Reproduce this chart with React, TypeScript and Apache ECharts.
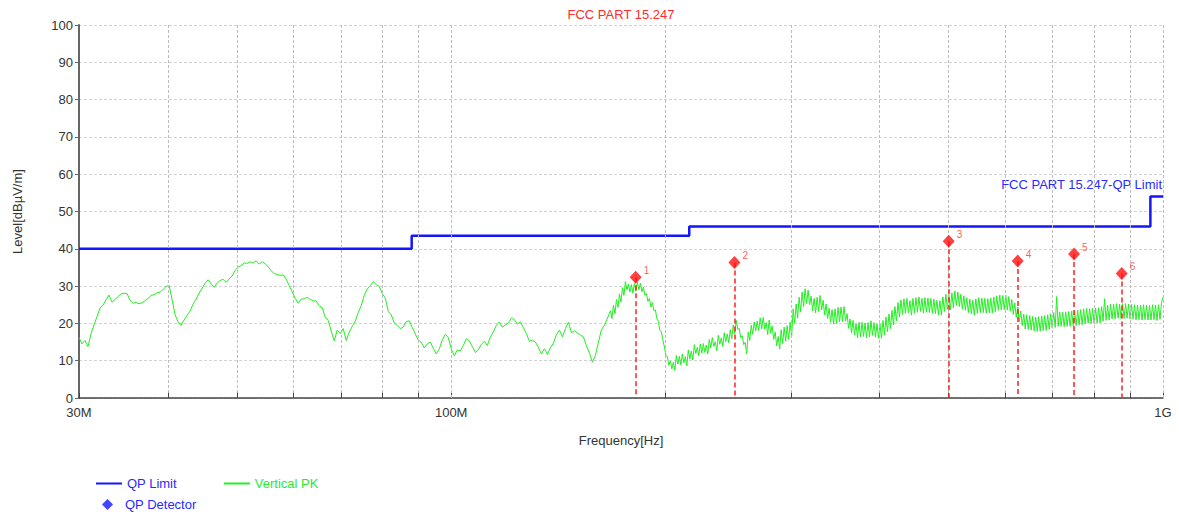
import React, { useEffect, useRef } from "react";
import * as echarts from "echarts";

const FONT = "'Liberation Sans', Arial, sans-serif";

const TITLE = "FCC PART 15.247";
const LIMIT_LABEL = "FCC PART 15.247-QP Limit";
const X_NAME = "Frequency[Hz]";
const Y_NAME = "Level[dBµV/m]";

// receiver sweep (MHz): coarse log-spaced part, then a finer log-spaced part
const SWEEP_START_MHZ = 30;
const SWEEP_SPLIT_MHZ = 167.4;
const SWEEP_STOP_MHZ = 1000;

// Vertical PK levels (dBµV/m), 30 MHz -> 167.4 MHz
const TRACE_LEVELS_LOW = [
  16.2, 14.5, 15.4, 13.8, 17.2, 19.6, 21.8, 24.1, 24.9, 26.3,
  27.6, 25.7, 26.4, 27.2, 27.9, 28.1, 28.0, 26.2, 25.4, 25.6,
  25.3, 25.5, 26.1, 26.7, 27.5, 27.7, 28.2, 28.4, 29.1, 29.9,
  30.2, 26.4, 22.3, 20.4, 19.5, 20.9, 22.2, 23.3, 25.2, 26.5,
  28.1, 29.4, 30.8, 31.7, 30.6, 29.7, 30.8, 31.5, 31.8, 31.0,
  31.9, 32.7, 34.2, 35.1, 35.5, 36.2, 36.1, 36.5, 36.2, 36.8,
  35.9, 36.5, 36.0, 35.2, 34.1, 33.4, 33.1, 32.9, 33.0, 31.9,
  30.1, 28.5, 26.7, 25.4, 26.5, 26.6, 27.0, 26.4, 26.1, 26.0,
  24.8, 24.2, 21.6, 20.8, 17.9, 15.3, 18.2, 17.3, 18.6, 15.4,
  17.7, 19.2, 20.6, 22.9, 24.8, 27.5, 29.2, 30.1, 31.2, 30.4,
  29.9, 28.0, 26.8, 23.2, 22.3, 20.1, 19.4, 18.6, 19.0, 20.5,
  20.7, 18.9, 17.2, 15.5, 14.9, 13.4, 14.5, 15.0, 13.3, 11.8,
  13.2, 15.6, 17.1, 16.2, 13.1, 11.3, 12.9, 12.6, 14.1, 15.9,
  15.3, 13.8, 12.2, 12.9, 14.4, 15.2, 14.1, 16.3, 17.7, 19.5,
  20.4, 19.0, 19.6, 20.1, 21.4, 21.0, 19.8, 20.4, 18.9, 17.3,
  15.2, 15.5, 15.0, 13.6, 11.8, 13.2, 11.7, 13.5, 14.7, 17.0,
  18.2, 16.4, 18.6, 20.3, 17.5, 18.0, 17.4, 16.9, 16.4, 14.0,
  12.1, 9.6, 11.4, 15.0, 18.3, 19.5, 21.4,
];

// Vertical PK levels (dBµV/m), 167.4 MHz -> 1 GHz (dense noisy band)
const TRACE_LEVELS_HIGH = [
  23.4, 21.3, 24.9, 22.6, 26.4, 24.3, 27.9, 25.7, 29.6, 27.5,
  31.2, 29.0, 30.5, 28.4, 30.4, 28.1, 30.7, 28.6, 31.1, 29.0,
  30.8, 28.5, 29.7, 27.6, 28.0, 25.9, 26.7, 24.4, 25.6, 23.5,
  23.6, 21.3, 20.5, 18.1, 17.8, 15.6, 13.7, 11.4, 11.1, 8.8,
  9.9, 7.8, 9.6, 7.4, 11.4, 9.1, 11.2, 8.9, 11.8, 9.4,
  11.1, 8.6, 12.9, 10.4, 12.6, 10.2, 14.3, 11.9, 13.6, 11.3,
  14.5, 12.0, 14.6, 12.2, 14.2, 11.8, 15.7, 13.4, 16.2, 13.8,
  15.1, 12.7, 16.8, 14.4, 16.1, 13.8, 17.5, 15.1, 17.2, 14.8,
  18.3, 15.9, 19.6, 17.3, 20.8, 18.4, 18.6, 16.2, 16.7, 14.3,
  14.9, 11.8, 17.7, 15.4, 19.5, 17.1, 20.4, 18.0, 20.6, 18.1,
  21.5, 18.6, 21.6, 18.5, 20.2, 17.0, 20.9, 17.4, 19.3, 15.7,
  17.7, 14.0, 16.5, 13.1, 18.3, 14.6, 19.0, 15.2, 19.4, 15.7,
  20.3, 16.5, 23.9, 20.1, 25.2, 21.4, 27.0, 23.1, 28.4, 24.5,
  29.3, 25.3, 28.9, 25.0, 27.3, 23.4, 26.7, 22.8, 27.0, 23.2,
  27.5, 23.6, 26.2, 22.3, 25.2, 21.3, 24.1, 20.3, 23.7, 19.8,
  23.9, 20.0, 24.3, 20.4, 24.4, 20.5, 24.5, 20.6, 22.6, 18.7,
  21.2, 17.4, 20.8, 16.9, 19.9, 16.1, 20.3, 16.4, 20.3, 16.5,
  20.1, 16.2, 20.2, 16.4, 20.7, 16.8, 20.2, 16.3, 19.9, 16.0,
  19.8, 16.0, 20.8, 16.9, 21.7, 17.8, 22.5, 18.6, 23.5, 19.6,
  24.5, 20.6, 25.6, 21.7, 26.3, 22.4, 26.6, 22.7, 26.7, 22.8,
  26.1, 22.2, 26.7, 22.7, 26.9, 23.0, 27.1, 23.2, 26.7, 22.8,
  26.9, 23.0, 26.8, 22.9, 26.7, 22.7, 26.5, 22.6, 26.2, 22.3,
  26.1, 22.2, 27.1, 23.2, 27.8, 23.8, 27.7, 23.7, 28.2, 24.2,
  28.7, 24.8, 28.4, 24.5, 27.8, 23.8, 27.4, 23.5, 26.9, 22.9,
  26.5, 22.6, 26.2, 22.2, 26.6, 22.7, 26.9, 22.9, 26.8, 22.9,
  26.7, 22.7, 26.6, 22.8, 26.8, 22.8, 27.1, 23.1, 27.4, 23.5,
  27.6, 23.6, 27.5, 23.7, 27.6, 23.6, 27.2, 23.3, 26.4, 22.4,
  25.5, 21.6, 24.4, 20.4, 23.3, 19.4, 22.5, 18.5, 22.3, 18.4,
  22.1, 18.2, 21.9, 18.0, 21.7, 17.8, 21.8, 17.9, 22.0, 18.1,
  22.1, 18.1, 22.3, 18.4, 22.6, 18.7, 22.9, 18.9, 27.2, 19.2,
  23.1, 19.2, 23.0, 19.1, 23.1, 19.2, 23.2, 19.2, 23.3, 19.4,
  23.4, 19.4, 23.5, 19.6, 23.7, 19.7, 23.9, 19.9, 24.0, 20.1,
  23.9, 20.0, 24.0, 20.0, 24.1, 20.1, 24.2, 20.2, 24.5, 20.6,
  26.6, 20.8, 24.9, 20.9, 25.1, 21.2, 25.2, 21.2, 25.3, 21.4,
  25.2, 21.3, 25.3, 21.3, 25.3, 21.4, 25.2, 21.2, 25.1, 21.2,
  25.0, 21.0, 24.9, 21.0, 24.9, 20.9, 25.0, 21.0, 24.9, 20.9,
  24.8, 20.9, 25.0, 21.0, 24.9, 20.8, 25.0, 21.1, 25.6, 27.0,
];

// QP limit (step line)
const LIMIT_FREQS = [30, 88, 88, 216, 216, 960, 960, 1000];
const LIMIT_LEVELS = [40, 40, 43.5, 43.5, 46, 46, 54, 54];

// QP detector markers
const MARKER_IDS = ["1", "2", "3", "4", "5", "6"];
const MARKER_FREQS = [181.6, 250, 500, 625, 750, 875];
const MARKER_LEVELS = [32.4, 36.3, 42.0, 36.7, 38.6, 33.4];

// vertical grid lines and minor ticks (MHz)
const GRID_FREQS = [40, 50, 60, 70, 80, 90, 100, 200, 300, 400, 500, 600, 700, 800, 900, 1000];
const MINOR_TICK_FREQS = [40, 50, 60, 70, 80, 90, 200, 300, 400, 500, 600, 700, 800, 900];

const Y_MIN = 0;
const Y_MAX = 100;
const Y_STEP = 10;

export default function App() {
  const ref = useRef<HTMLDivElement>(null);

  useEffect(() => {
    document.body.style.margin = "0";
    if (!ref.current) return;
    const chart = echarts.init(ref.current, undefined, { renderer: "svg" });

    const nLow = TRACE_LEVELS_LOW.length;
    const nHigh = TRACE_LEVELS_HIGH.length;
    const traceData = [
      ...TRACE_LEVELS_LOW.map((lv, i) => [
        SWEEP_START_MHZ * Math.pow(SWEEP_SPLIT_MHZ / SWEEP_START_MHZ, i / nLow),
        lv,
      ]),
      ...TRACE_LEVELS_HIGH.map((lv, j) => [
        SWEEP_SPLIT_MHZ * Math.pow(SWEEP_STOP_MHZ / SWEEP_SPLIT_MHZ, j / (nHigh - 1)),
        lv,
      ]),
    ];
    const limitData = LIMIT_FREQS.map((f, i) => [f, LIMIT_LEVELS[i]]);
    const markerData = MARKER_FREQS.map((f, i) => ({
      name: MARKER_IDS[i],
      value: [f, MARKER_LEVELS[i]],
    }));

    const option: any = {
      animation: false,
      backgroundColor: "#ffffff",
      textStyle: { fontFamily: FONT },
      grid: { left: 79, right: 16, top: 25, bottom: 117, containLabel: false },
      xAxis: {
        type: "log",
        logBase: 10,
        min: 30,
        max: 1000,
        axisLine: { show: true, onZero: false, lineStyle: { color: "#444", width: 1.5 } },
        axisTick: { show: true, inside: true, length: 5, lineStyle: { color: "#444" } },
        axisLabel: {
          color: "#333",
          fontSize: 13,
          fontFamily: FONT,
          margin: 8,
          showMinLabel: true,
          showMaxLabel: true,
          formatter: (v: number) =>
            v >= 1000 ? Math.round(v / 1000) + "G" : Math.round(v) + "M",
        },
        splitLine: { show: false },
        minorTick: { show: false },
        name: X_NAME,
        nameLocation: "middle",
        nameGap: 36,
        nameTextStyle: { color: "#333", fontSize: 13, fontFamily: FONT },
      },
      yAxis: {
        type: "value",
        min: Y_MIN,
        max: Y_MAX,
        interval: Y_STEP,
        axisLine: { show: true, lineStyle: { color: "#666", width: 2 } },
        axisTick: { show: true, length: 4, lineStyle: { color: "#666" } },
        axisLabel: { color: "#333", fontSize: 13, fontFamily: FONT, margin: 6 },
        splitLine: { show: true, lineStyle: { color: "#d2d2d2", type: [3, 2], width: 1 } },
        name: Y_NAME,
        nameLocation: "middle",
        nameGap: 55,
        nameRotate: 90,
        nameTextStyle: { color: "#333", fontSize: 13, fontFamily: FONT },
      },
      legend: [
        {
          data: [
            { name: "QP Limit", icon: "rect", textStyle: { color: "#2a2aff" } },
            { name: "Vertical PK", icon: "rect", textStyle: { color: "#2ee82e" } },
          ],
          left: 96,
          top: 477,
          padding: 0,
          itemWidth: 26,
          itemHeight: 2,
          itemGap: 47,
          selectedMode: false,
          textStyle: { fontSize: 13, fontFamily: FONT },
        },
        {
          data: [
            {
              name: "QP Detector",
              icon: "diamond",
              itemStyle: { color: "#1515ff" },
              textStyle: { color: "#2a2aff", padding: [0, 0, 0, 7] },
            },
          ],
          left: 102,
          top: 498,
          padding: 0,
          itemWidth: 11,
          itemHeight: 11,
          selectedMode: false,
          textStyle: { fontSize: 13, fontFamily: FONT },
        },
      ],
      graphic: [
        {
          type: "text",
          x: 621,
          y: 14,
          silent: true,
          style: {
            text: TITLE,
            fill: "#ff2a2a",
            fontSize: 13,
            fontFamily: FONT,
            align: "center",
            verticalAlign: "middle",
          },
        },
        {
          type: "text",
          x: 1162,
          y: 184,
          silent: true,
          style: {
            text: LIMIT_LABEL,
            fill: "#2a2aff",
            fontSize: 13,
            fontFamily: FONT,
            align: "right",
            verticalAlign: "middle",
          },
        },
      ],
      series: [
        {
          name: "gridlines",
          type: "line",
          data: [],
          silent: true,
          z: 1,
          markLine: {
            silent: true,
            symbol: "none",
            label: { show: false },
            animation: false,
            lineStyle: { color: "#bdbdbd", type: [3, 2], width: 1 },
            data: GRID_FREQS.map((f) => ({ xAxis: f })),
          },
        },
        {
          name: "minorticks",
          type: "line",
          data: [],
          silent: true,
          z: 2,
          markLine: {
            silent: true,
            symbol: "none",
            label: { show: false },
            animation: false,
            lineStyle: { color: "#444", type: "solid", width: 1 },
            data: MINOR_TICK_FREQS.map((f) => [
              { coord: [f, 0] },
              { coord: [f, 1.4] },
            ]),
          },
        },
        {
          name: "Vertical PK",
          type: "line",
          data: traceData,
          symbol: "none",
          showSymbol: false,
          z: 3,
          color: "#22ee22",
          lineStyle: { color: "#22ee22", width: 1 },
        },
        {
          name: "QP Limit",
          type: "line",
          data: limitData,
          symbol: "none",
          showSymbol: false,
          z: 4,
          color: "#1515ff",
          lineStyle: { color: "#1515ff", width: 2.5 },
        },
        {
          name: "QP Detector",
          type: "scatter",
          data: markerData,
          symbol: "diamond",
          symbolSize: [12, 13],
          z: 6,
          itemStyle: { color: "#ff1010" },
          label: {
            show: true,
            formatter: "{b}",
            position: "right",
            distance: 2,
            offset: [0, -7],
            color: "#ff3030",
            fontSize: 10,
            fontFamily: FONT,
          },
          markLine: {
            silent: true,
            symbol: "none",
            label: { show: false },
            animation: false,
            lineStyle: { color: "#ff2020", type: [5, 3], width: 1.5 },
            data: MARKER_FREQS.map((f, i) => [
              { coord: [f, MARKER_LEVELS[i]] },
              { coord: [f, 0] },
            ]),
          },
        },
      ],
    };

    chart.setOption(option);
    return () => chart.dispose();
  }, []);

  return <div ref={ref} style={{ width: 1179, height: 515 }} />;
}
